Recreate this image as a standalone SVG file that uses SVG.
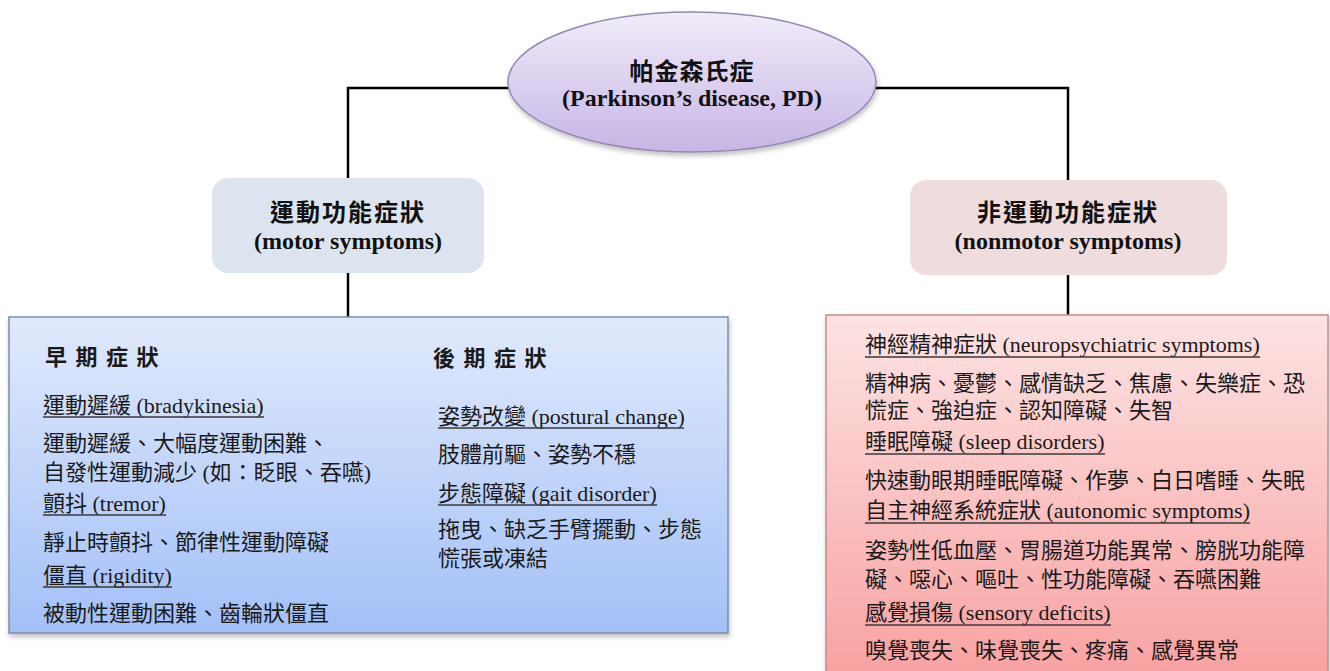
<svg xmlns="http://www.w3.org/2000/svg" width="1330" height="671" viewBox="0 0 1330 671">
<style>
.t{font-family:"Liberation Serif","Noto Sans CJK TC",serif;font-size:22px;fill:#1a1a1a}
.h{font-weight:bold;font-size:22px;letter-spacing:1.5px}
.b{font-family:"Liberation Serif","Noto Sans CJK TC",serif;font-weight:bold;font-size:24px;fill:#111;text-anchor:middle}
.ul{stroke:#3a3a3a;stroke-width:1.4}
.conn{fill:none;stroke:#000;stroke-width:2.5}
</style>
<defs>
<linearGradient id="gE" x1="0" y1="0" x2="0" y2="1"><stop offset="0" stop-color="#f1ecf9"/><stop offset="1" stop-color="#c7b5e6"/></linearGradient>
<linearGradient id="gB" x1="0" y1="0" x2="0" y2="1"><stop offset="0" stop-color="#e1eafc"/><stop offset="1" stop-color="#a2c0f8"/></linearGradient>
<linearGradient id="gR" x1="0" y1="0" x2="0" y2="1"><stop offset="0" stop-color="#fde3e3"/><stop offset="1" stop-color="#f8a0a0"/></linearGradient>
<filter id="sh" x="-5%" y="-5%" width="110%" height="115%"><feDropShadow dx="1" dy="3" stdDeviation="2.5" flood-color="#000" flood-opacity="0.25"/></filter>
</defs>
<rect width="1330" height="671" fill="#fff"/>
<g id="connectors">
<path class="conn" d="M510,88 H348 V178"/>
<path class="conn" d="M874,88 H1068 V180"/>
<path class="conn" d="M348,273 V317"/>
<path class="conn" d="M1068,275 V315"/>
</g>
<g id="root">
<ellipse cx="692" cy="82" rx="184" ry="70" fill="url(#gE)" stroke="#9489b0" stroke-width="1.5" filter="url(#sh)"/>
<text class="b" x="692" y="80" letter-spacing="1">帕金森氏症</text>
<text class="b" x="692" y="106">(Parkinson’s disease, PD)</text>
</g>
<g id="motor">
<rect x="212" y="178" width="272" height="95" rx="16" fill="#dce5ef"/>
<text class="b" x="348" y="221" font-size="22" letter-spacing="2">運動功能症狀</text>
<text class="b" x="348" y="249">(motor symptoms)</text>
</g>
<g id="nonmotor">
<rect x="910" y="180" width="317" height="95" rx="16" fill="#efdcdc"/>
<text class="b" x="1068" y="221" font-size="22" letter-spacing="2">非運動功能症狀</text>
<text class="b" x="1068" y="249">(nonmotor symptoms)</text>
</g>
<g id="motor-detail">
<rect x="9" y="317" width="719" height="316" fill="url(#gB)" stroke="#7e8ea8" stroke-width="1.5" filter="url(#sh)"/>
<text class="t h" x="45" y="365">早 期 症 狀</text>
<text class="t" x="43" y="413">運動遲緩 (bradykinesia)</text>
<line class="ul" x1="43" y1="417" x2="264" y2="417"/>
<text class="t" x="43" y="451">運動遲緩、大幅度運動困難、</text>
<text class="t" x="43" y="480">自發性運動減少 (如：眨眼、吞嚥)</text>
<text class="t" x="43" y="511">顫抖 (tremor)</text>
<line class="ul" x1="43" y1="515" x2="166" y2="515"/>
<text class="t" x="43" y="550">靜止時顫抖、節律性運動障礙</text>
<text class="t" x="43" y="583">僵直 (rigidity)</text>
<line class="ul" x1="43" y1="587" x2="172" y2="587"/>
<text class="t" x="43" y="621">被動性運動困難、齒輪狀僵直</text>
<text class="t h" x="433" y="366">後 期 症 狀</text>
<text class="t" x="438" y="424">姿勢改變 (postural change)</text>
<line class="ul" x1="438" y1="428" x2="684" y2="428"/>
<text class="t" x="438" y="462">肢體前驅、姿勢不穩</text>
<text class="t" x="438" y="501">步態障礙 (gait disorder)</text>
<line class="ul" x1="438" y1="505" x2="657" y2="505"/>
<text class="t" x="438" y="537">拖曳、缺乏手臂擺動、步態</text>
<text class="t" x="438" y="566">慌張或凍結</text>
</g>
<g id="nonmotor-detail">
<rect x="826" y="315" width="502" height="370" fill="url(#gR)" stroke="#c48c8c" stroke-width="1.5" filter="url(#sh)"/>
<text class="t" x="865" y="352">神經精神症狀 (neuropsychiatric symptoms)</text>
<line class="ul" x1="865" y1="357" x2="1260" y2="357"/>
<text class="t" x="865" y="391">精神病、憂鬱、感情缺乏、焦慮、失樂症、恐</text>
<text class="t" x="865" y="418">慌症、強迫症、認知障礙、失智</text>
<text class="t" x="865" y="449">睡眠障礙 (sleep disorders)</text>
<line class="ul" x1="865" y1="454" x2="1105" y2="454"/>
<text class="t" x="865" y="488">快速動眼期睡眠障礙、作夢、白日嗜睡、失眠</text>
<text class="t" x="865" y="518">自主神經系統症狀 (autonomic symptoms)</text>
<line class="ul" x1="865" y1="523" x2="1250" y2="523"/>
<text class="t" x="865" y="558">姿勢性低血壓、胃腸道功能異常、膀胱功能障</text>
<text class="t" x="865" y="587">礙、噁心、嘔吐、性功能障礙、吞嚥困難</text>
<text class="t" x="865" y="620">感覺損傷 (sensory deficits)</text>
<line class="ul" x1="865" y1="625" x2="1111" y2="625"/>
<text class="t" x="865" y="658">嗅覺喪失、味覺喪失、疼痛、感覺異常</text>
</g>
</svg>
